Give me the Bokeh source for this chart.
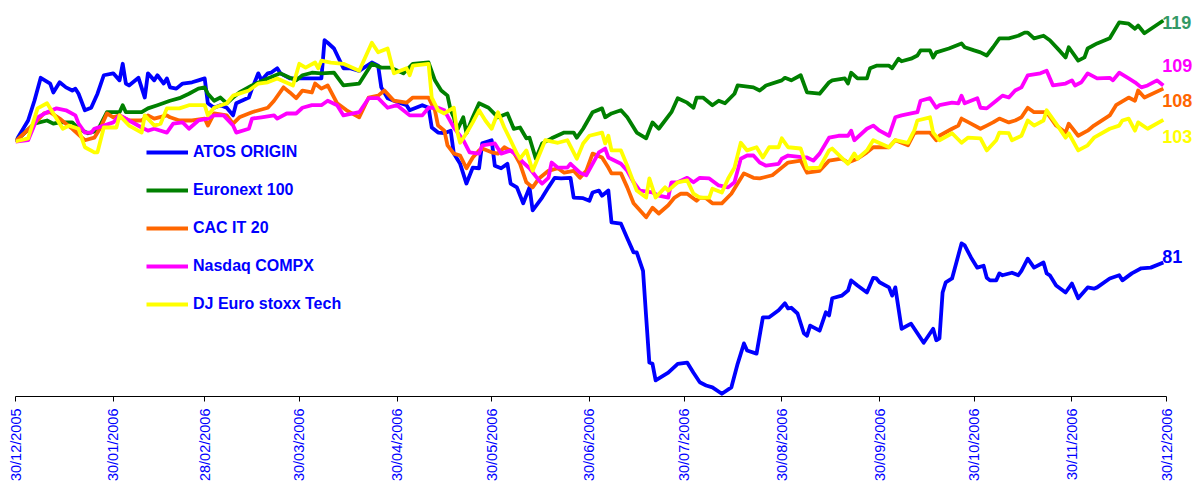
import math
from datetime import date
from bokeh.plotting import figure
from bokeh.models import Range1d, FixedTicker, Label
from bokeh.embed import file_html
from bokeh.resources import INLINE

START = date(2005, 12, 30)

TICK_LABELS = ["30/12/2005", "30/01/2006", "28/02/2006", "30/03/2006", "30/04/2006",
               "30/05/2006", "30/06/2006", "30/07/2006", "30/08/2006", "30/09/2006",
               "30/10/2006", "30/11/2006", "30/12/2006"]

SERIES_NAMES = ["ATOS ORIGIN", "Euronext 100", "CAC IT 20", "Nasdaq COMPX", "DJ Euro stoxx Tech"]

# (days since 30/12/2005, index value, base 100)
ATOS = [(0,100),(4,103.3),(6,106.4),(8,110.0),(11,109.1),(12,107.7),(14,109.3),(16,108.5),(18,108.0),(19,108.3),
        (20,107.5),(22,104.9),(24,105.3),(26,107.5),(28,110.4),(31,110.7),(33,109.6),(34,112.2),(35,109.1),(36,108.8),
        (39,110.0),(41,106.9),(42,110.7),(44,109.6),(45,110.4),(47,109.1),(48,109.9),(49,108.5),(51,108.3),(53,109.1),
        (56,109.3),(58,109.6),(60,109.9),(61,106.0),(63,105.3),(65,105.7),(67,105.3),(69,104.1),(70,106.0),(74,106.9),
        (75,108.3),(77,110.7),(78,109.6),(80,110.7),(81,110.8),(83,111.5),(84,110.7),(87,109.9),(89,109.9),(97,109.9),
        (98,115.9),(99,115.5),(101,114.6),(104,111.5),(106,111.5),(109,111.1),(113,112.4),(115,111.9),(116,108.5),(118,106.8),
        (120,106.4),(124,105.7),(125,104.9),(129,105.7),(131,105.3),(132,102.2),(134,101.4),(136,101.3),(138,101.7),(139,98.1),
        (141,96.5),(143,93.4),(145,95.9),(147,95.8),(148,99.7),(151,100.2),(152,96.2),(154,95.8),(156,96.5),(157,93.4),
        (159,92.8),(161,90.3),(163,92.8),(164,89.2),(167,91.2),(169,92.8),(171,94.3),(173,94.2),(176,94.3),(177,91.2),
        (180,91.1),(182,90.7),(183,92.0),(185,92.3),(186,91.5),(188,92.3),(189,87.3),(192,87.1),(194,84.8),(196,82.6),
        (197,82.6),(199,79.7),(200,72.4),(201,65.3),(202,65.1),(203,62.5),(207,63.7),(210,65.1),(213,65.3),(215,63.7),
        (217,62.2),(219,61.7),(221,61.4),(224,60.4),(227,61.4),(229,65.1),(231,68.3),(232,67.2),(235,66.7),(237,72.4),
        (239,72.4),(242,73.5),(244,74.6),(245,73.8),(246,73.9),(248,73.0),(250,69.9),(251,69.5),(252,71.1),(255,70.3),
        (257,73.2),(258,72.7),(259,75.4),(262,75.8),(264,76.6),(265,78.2),(267,77.4),(270,76.3),(272,78.6),(273,78.5),
        (274,77.9),(277,77.1),(278,75.8),(279,77.1),(281,70.6),(284,71.4),(286,69.9),(288,68.4),(291,70.6),(292,68.8),
        (293,69.1),(294,76.3),(295,77.9),(297,78.5),(300,84.0),(301,83.7),(303,81.8),(305,80.2),(307,80.5),(308,78.6),
        (309,78.2),(311,78.2),(312,79.3),(313,79.0),(316,79.4),(318,79.0),(319,79.7),(321,81.6),(323,80.2),(326,81.0),
        (327,79.3),(328,79.0),(330,77.4),(333,76.3),(335,77.7),(337,75.4),(340,77.1),(342,76.9),(343,77.1),(347,78.5),
        (350,79.0),(351,78.2),(354,79.3),(357,80.1),(360,80.2),(364,81.0)]

EURONEXT = [(0,100),(6,102.8),(10,103.3),(12,102.8),(14,103.0),(18,103.0),(20,102.0),(23,101.3),(26,101.7),(29,104.6),
        (33,104.6),(34,105.7),(35,104.6),(40,104.6),(42,105.2),(45,105.7),(49,106.4),(52,106.8),(55,107.5),(58,108.3),
        (60,108.5),(61,107.5),(63,106.4),(65,106.9),(67,106.0),(69,106.9),(71,107.7),(75,108.8),(80,109.9),(84,110.7),
        (87,110.0),(89,109.6),(91,110.4),(94,110.8),(97,110.7),(101,110.8),(104,108.8),(109,109.1),(113,112.2),(116,111.6),
        (119,111.6),(123,110.7),(126,112.2),(131,112.4),(133,109.6),(135,108.0),(137,107.2),(138,104.9),(139,103.8),(140,101.7),
        (142,103.8),(143,101.3),(145,103.8),(147,106.0),(150,105.3),(153,103.8),(156,104.4),(158,102.0),(160,102.2),(162,100.5),
        (163,100.6),(165,97.3),(167,99.7),(170,100.5),(174,101.4),(177,101.4),(178,100.6),(180,102.0),(183,104.6),(186,105.2),
        (187,103.8),(189,104.4),(192,104.9),(194,103.8),(197,101.4),(200,100.5),(202,103.0),(204,102.0),(208,104.6),(210,106.8),
        (213,106.1),(215,105.3),(216,106.9),(218,106.9),(221,105.7),(223,106.4),(225,106.0),(228,107.5),(229,108.8),(234,108.5),
        (236,108.0),(238,108.8),(243,109.6),(244,110.0),(246,109.6),(249,110.4),(251,107.7),(255,107.5),(258,109.3),(259,109.6),
        (263,109.9),(264,109.1),(265,110.8),(267,109.9),(270,109.9),(271,111.5),(273,111.9),(277,111.9),(278,111.5),(280,113.0),
        (281,112.6),(284,113.0),(286,113.5),(287,114.3),(290,114.3),(291,113.2),(292,114.0),(296,114.6),(300,115.4),(301,114.8),
        (304,114.3),(306,114.0),(308,113.5),(310,114.8),(312,116.2),(315,116.2),(318,116.6),(320,117.1),(321,117.1),(323,116.2),
        (326,116.6),(328,115.9),(331,114.3),(333,113.2),(334,114.8),(337,112.7),(339,113.2),(340,114.6),(343,115.4),(347,116.2),
        (350,118.7),(353,118.5),(355,117.7),(356,118.2),(358,117.0),(364,119.0)]

CAC_IT = [(0,100),(6,102.8),(9,104.4),(11,104.6),(14,103.6),(16,102.8),(18,102.0),(22,100.2),(25,100.6),(27,102.2),
        (29,104.4),(31,103.8),(33,104.1),(36,103.3),(40,103.3),(42,104.1),(44,103.6),(48,104.1),(49,103.8),(52,103.3),
        (56,103.3),(60,103.6),(61,102.5),(63,104.4),(67,104.1),(69,102.8),(71,103.8),(75,104.6),(80,105.3),(82,106.4),
        (85,108.5),(87,107.7),(89,106.8),(91,108.0),(94,107.7),(95,109.1),(97,108.3),(99,108.8),(102,106.0),(105,104.9),
        (109,103.8),(112,106.9),(115,107.2),(117,108.0),(120,106.4),(124,106.1),(126,106.9),(131,106.9),(133,104.9),(134,102.5),
        (136,101.7),(137,99.4),(139,98.1),(141,97.8),(143,95.8),(145,97.5),(147,98.6),(148,98.9),(151,98.3),(153,98.1),
        (155,99.1),(158,98.3),(160,96.5),(162,93.6),(164,92.8),(166,94.2),(169,95.4),(172,95.8),(174,95.1),(177,95.4),
        (179,94.3),(181,95.4),(183,98.1),(186,97.5),(188,95.9),(189,95.0),(192,95.0),(194,92.8),(196,90.3),(200,88.1),
        (202,89.6),(204,88.7),(207,90.0),(209,91.2),(211,91.8),(213,91.8),(216,90.7),(217,91.2),(219,91.1),(221,90.3),
        (224,90.3),(227,91.8),(229,93.4),(231,95.0),(234,94.3),(236,94.2),(240,94.7),(243,95.9),(245,96.7),(249,97.0),
        (251,95.1),(255,95.4),(258,97.0),(262,97.3),(264,96.7),(267,97.3),(270,98.3),(272,99.1),(277,99.1),(279,100.2),
        (283,99.4),(285,101.3),(286,101.4),(290,101.4),(292,100.2),(293,100.9),(297,102.0),(299,102.5),(300,103.6),(303,102.8),
        (306,102.0),(308,102.5),(310,103.0),(312,103.6),(315,103.0),(317,103.3),(319,103.8),(321,105.3),(323,104.6),(325,104.6),
        (327,104.6),(330,102.5),(333,101.4),(334,102.8),(337,100.9),(340,101.7),(342,102.5),(347,104.1),(349,105.7),(353,106.9),
        (355,106.4),(356,108.0),(358,106.9),(364,108.3)]

NASDAQ = [(0,100),(4,100.2),(7,103.8),(10,104.6),(13,105.2),(16,104.9),(19,104.1),(20,102.8),(22,101.4),(24,101.4),
        (25,102.0),(28,102.5),(31,103.0),(33,104.1),(36,103.3),(40,102.2),(42,101.7),(44,102.0),(48,101.4),(50,102.8),
        (53,103.0),(55,102.0),(58,103.3),(61,103.6),(63,104.1),(66,104.1),(69,102.5),(70,101.4),(74,102.0),(75,103.6),
        (78,103.8),(82,104.1),(83,103.6),(86,104.4),(89,104.4),(91,105.3),(94,105.7),(97,105.7),(99,106.4),(102,105.7),
        (104,104.1),(109,104.6),(112,106.8),(115,106.8),(118,105.3),(121,105.7),(125,104.1),(129,104.1),(131,105.3),(134,105.3),
        (136,104.9),(139,102.2),(142,100.2),(144,98.3),(147,98.1),(148,99.4),(152,99.7),(154,98.1),(157,98.6),(159,97.8),
        (161,96.7),(163,95.8),(166,93.9),(167,93.4),(169,94.3),(170,96.7),(172,95.9),(175,95.9),(176,96.5),(179,95.1),
        (181,94.7),(185,98.3),(187,98.9),(188,97.5),(192,96.5),(194,95.4),(196,93.6),(198,92.3),(202,92.0),(204,91.5),
        (207,91.2),(208,93.6),(210,93.6),(213,94.3),(215,93.6),(217,94.3),(220,94.2),(223,93.1),(226,92.8),(228,93.6),
        (230,97.3),(232,97.8),(234,97.8),(236,96.7),(238,96.2),(242,96.5),(243,97.3),(245,97.8),(250,97.5),(251,97.5),
        (253,97.0),(255,98.1),(258,100.6),(261,100.9),(264,100.9),(265,101.7),(266,100.2),(270,102.0),(272,102.5),(274,101.7),
        (277,100.9),(279,103.8),(281,104.1),(284,104.4),(286,104.6),(287,106.4),(290,106.8),(292,105.3),(293,105.7),(297,106.1),
        (299,106.0),(300,107.2),(301,106.0),(305,106.8),(306,105.3),(308,105.2),(311,106.4),(313,107.2),(315,106.9),(317,108.0),
        (319,108.5),(321,110.4),(325,110.7),(327,111.1),(329,108.8),(333,109.1),(335,109.6),(336,108.8),(338,109.3),(340,110.7),
        (343,109.9),(347,110.0),(348,109.6),(350,110.8),(353,109.9),(355,109.3),(357,108.5),(359,108.8),(362,109.6),(364,108.8)]

DJ_TECH = [(0,100),(4,100.5),(7,105.2),(10,106.0),(12,104.4),(15,102.0),(17,102.5),(20,102.0),(22,99.1),(25,98.3),
        (26,98.3),(28,102.2),(32,102.2),(33,104.1),(36,102.5),(40,101.4),(41,104.1),(44,102.5),(46,102.8),(48,105.2),
        (52,105.2),(55,105.7),(60,105.7),(61,104.1),(63,105.3),(67,106.0),(69,107.2),(74,108.0),(77,109.1),(80,109.3),
        (83,109.9),(88,108.8),(90,112.2),(92,111.6),(95,112.4),(96,111.5),(97,112.7),(100,112.4),(104,112.2),(109,111.1),
        (113,115.5),(115,114.0),(118,114.6),(120,110.7),(124,111.5),(125,110.4),(126,111.9),(131,112.2),(132,106.9),(134,104.9),
        (136,104.4),(139,105.3),(140,101.7),(141,99.8),(143,101.3),(145,103.0),(147,104.9),(149,103.3),(151,102.0),(153,104.6),
        (155,102.2),(157,100.2),(159,98.1),(160,97.3),(162,98.6),(164,95.4),(166,97.8),(168,100.2),(172,99.8),(175,100.2),
        (178,97.3),(180,99.7),(182,100.9),(186,101.4),(187,99.7),(188,100.9),(189,98.6),(192,98.6),(194,96.2),(197,92.3),
        (200,91.2),(201,94.2),(203,91.2),(206,92.8),(207,92.3),(210,93.6),(213,93.9),(215,91.8),(217,91.2),(220,91.2),
        (221,92.6),(224,92.0),(226,94.2),(228,95.9),(230,99.8),(232,98.6),(235,99.1),(237,97.5),(239,99.1),(242,99.1),
        (243,100.5),(245,99.1),(249,98.9),(251,95.8),(255,95.9),(258,98.6),(259,98.9),(264,96.5),(266,98.1),(267,97.3),
        (270,98.6),(272,100.2),(277,99.1),(279,100.2),(283,99.8),(285,101.7),(286,103.3),(290,103.8),(291,101.4),(293,100.2),
        (297,101.3),(300,99.8),(302,100.6),(306,100.5),(308,98.6),(311,100.2),(312,101.4),(315,101.3),(316,100.2),(319,100.9),
        (321,103.3),(323,102.5),(326,103.3),(327,104.9),(330,102.8),(333,100.6),(334,101.3),(337,98.6),(340,99.4),(342,100.6),
        (347,102.0),(350,102.5),(351,103.3),(353,103.6),(355,101.7),(356,103.0),(359,102.0),(364,103.4)]

SERIES = [ATOS, EURONEXT, CAC_IT, NASDAQ, DJ_TECH]
LINE_COLORS = ["#0000FF", "#008000", "#FF6600", "#FF00FF", "#FFFF00"]
END_LABEL_COLORS = ["#0000FF", "#339966", "#FF6600", "#FF00FF", "#FFFF00"]
END_LABEL_SHIFT = [0.9, -0.3, -1.9, 3.1, -2.6]   # value units, to avoid overlap


def day_of(s):
    d, m, y = map(int, s.split("/"))
    return (date(y, m, d) - START).days


tick_pos = [day_of(s) for s in TICK_LABELS]

FRAME_W = 1177          # frame runs past the last tick to leave room for end labels
AXIS_W = 1151           # pixel span of the dated axis
x_end = tick_pos[-1] * FRAME_W / AXIS_W

p = figure(frame_width=FRAME_W, frame_height=388,
           x_range=Range1d(0, x_end), y_range=Range1d(59.97, 120.88),
           y_axis_location=None, toolbar_location=None, output_backend="svg",
           min_border_left=15, min_border_right=0, min_border_top=8, min_border_bottom=0)
p.outline_line_color = None
p.xgrid.visible = False
p.ygrid.visible = False
p.background_fill_color = "white"

ax = p.xaxis[0]
ax.bounds = (tick_pos[0], tick_pos[-1])
ax.ticker = FixedTicker(ticks=tick_pos, minor_ticks=[])
ax.major_label_overrides = {t: lab for t, lab in zip(tick_pos, TICK_LABELS)}
ax.major_label_orientation = math.pi / 2
ax.major_label_text_color = "#0000FF"
ax.major_label_text_font = "Liberation Sans"
ax.major_label_text_font_size = "14.5px"
ax.major_label_standoff = 7
ax.axis_line_color = "black"
ax.axis_line_width = 1
ax.major_tick_line_color = "black"
ax.major_tick_out = 5
ax.major_tick_in = 0
ax.minor_tick_line_color = None

for name, data, col in zip(SERIES_NAMES, SERIES, LINE_COLORS):
    xs = [d for d, v in data]
    ys = [v for d, v in data]
    p.line(xs, ys, line_color=col, line_width=3.8, line_join="round", legend_label=name)

lg = p.legend[0]
lg.location = (131, 82)
lg.background_fill_alpha = 0
lg.border_line_color = None
lg.padding = 0
lg.margin = 0
lg.spacing = 18
lg.glyph_width = 42
lg.glyph_height = 20
lg.label_height = 20
lg.label_standoff = 5
lg.label_text_font = "Liberation Sans"
lg.label_text_font_style = "bold"
lg.label_text_font_size = "16px"
lg.label_text_color = "#0000FF"

for data, col, dy in zip(SERIES, END_LABEL_COLORS, END_LABEL_SHIFT):
    last_d, last_v = data[-1]
    p.add_layout(Label(x=last_d, y=last_v + dy, text=str(round(last_v)),
                       text_color=col, text_font="Liberation Sans", text_font_style="bold",
                       text_font_size="18px", text_baseline="middle", text_align="left",
                       x_offset=-1))

open("out.html", "w").write(file_html(p, INLINE))
